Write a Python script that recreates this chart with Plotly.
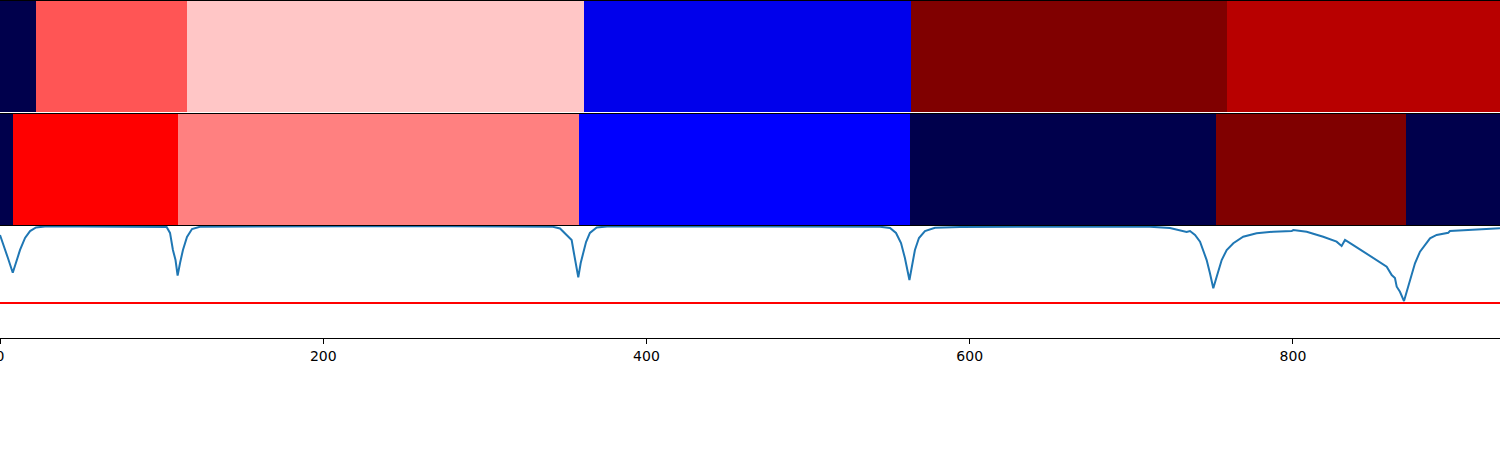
import plotly.graph_objects as go

# ---- data ----
x_max = 928.1

top_edges = [0.0, 22.3, 115.7, 361.3, 563.6, 759.2, 928.1]
top_values = [-1.0, 3/9, 1/9, -5/9, 1.0, 7/9]

mid_edges = [0.0, 8.0, 110.1, 358.3, 563.1, 752.4, 870.0, 928.1]
mid_values = [-1.0, 0.5, 0.25, -0.5, -1.0, 1.0, -1.0]

signal_x = [0.0, 2.5, 4.9, 7.9, 9.9, 12.4, 15.5, 18.6, 22.3, 27.8, 49.5, 80.4, 99.0,
            103.1, 105.2, 107.0, 108.6, 109.9, 111.4, 113.2, 115.7, 118.8, 123.7, 154.7, 216.6, 278.4, 327.9,
            342.1, 346.5, 350.6, 353.7, 355.1, 356.7, 357.8, 359.3, 360.9, 362.6, 365.0, 369.2, 375.6, 433.1, 495.0, 544.5,
            550.7, 554.4, 557.5, 559.9, 562.7, 564.3, 566.1, 568.6, 572.3, 578.5, 594.0, 649.7, 680.6,
            711.5, 723.9, 730.1, 734.2, 736.3, 739.4, 742.5, 744.5, 746.6, 748.6, 750.7, 752.8, 755.9, 759.0,
            763.1, 769.2, 777.5, 787.8, 799.2, 800.2, 808.5, 818.7, 827.0, 830.1, 832.2, 837.3, 843.5, 851.8,
            858.0, 861.1, 863.1, 864.2, 866.2, 868.7, 871.4, 875.5, 878.6, 884.8, 888.9, 896.1, 897.1, 907.5, 928.1]
signal_y = [0.920, 0.821, 0.714, 0.583, 0.679, 0.786, 0.893, 0.955, 0.987, 0.996, 0.996, 0.996, 0.996,
            0.991, 0.938, 0.786, 0.696, 0.558, 0.670, 0.786, 0.902, 0.973, 0.993, 0.996, 0.997, 0.997, 0.996,
            0.993, 0.978, 0.920, 0.875, 0.759, 0.634, 0.542, 0.670, 0.768, 0.857, 0.938, 0.987, 0.996, 0.997, 0.997, 0.994,
            0.982, 0.938, 0.848, 0.714, 0.518, 0.643, 0.786, 0.893, 0.955, 0.984, 0.991, 0.993, 0.996,
            0.994, 0.982, 0.964, 0.946, 0.955, 0.920, 0.860, 0.786, 0.696, 0.580, 0.444, 0.547, 0.696, 0.786,
            0.846, 0.904, 0.935, 0.949, 0.955, 0.964, 0.949, 0.904, 0.860, 0.821, 0.875, 0.830, 0.771, 0.696,
            0.637, 0.562, 0.536, 0.458, 0.413, 0.330, 0.458, 0.667, 0.771, 0.890, 0.920, 0.940, 0.955, 0.964, 0.979]
threshold = 0.3125

x_ticks = [0, 200, 400, 600, 800]

seismic = [[0.0, "rgb(0,0,76)"], [0.25, "rgb(0,0,255)"], [0.5, "rgb(255,255,255)"],
           [0.75, "rgb(255,0,0)"], [1.0, "rgb(128,0,0)"]]

fig = go.Figure()
fig.add_trace(go.Heatmap(x=top_edges, y=[0, 1], z=[top_values], colorscale=seismic,
                         zmin=-1, zmax=1, showscale=False, xaxis="x", yaxis="y"))
fig.add_trace(go.Heatmap(x=mid_edges, y=[0, 1], z=[mid_values], colorscale=seismic,
                         zmin=-1, zmax=1, showscale=False, xaxis="x2", yaxis="y2"))
fig.add_trace(go.Scatter(x=signal_x, y=signal_y, mode="lines",
                         line=dict(color="#1f77b4", width=2), xaxis="x3", yaxis="y3",
                         showlegend=False))
fig.add_trace(go.Scatter(x=[0, x_max], y=[threshold, threshold], mode="lines",
                         line=dict(color="red", width=2), xaxis="x3", yaxis="y3",
                         showlegend=False))

hidden = dict(visible=False, range=[0, x_max], automargin=False)
H = 338.0
fig.update_layout(
    width=1500, height=450,
    margin=dict(l=0, r=0, t=0, b=112, autoexpand=False),
    paper_bgcolor="white", plot_bgcolor="white",
    showlegend=False,
    xaxis=dict(hidden, domain=[0, 1], anchor="y"),
    yaxis=dict(visible=False, range=[0, 1], domain=[(H - 112) / H, 1.0], anchor="x"),
    xaxis2=dict(hidden, domain=[0, 1], anchor="y2"),
    yaxis2=dict(visible=False, range=[0, 1], domain=[(H - 225) / H, (H - 113) / H], anchor="x2"),
    xaxis3=dict(range=[0, x_max], domain=[0, 1], anchor="y3", showline=True, mirror=True,
                linecolor="black", linewidth=1, ticks="outside", ticklen=5, tickwidth=1,
                tickcolor="black", tickvals=x_ticks, showgrid=False, zeroline=False,
                ticklabeloverflow="allow", automargin=False,
                tickfont=dict(family="DejaVu Sans", size=14, color="black")),
    yaxis3=dict(range=[0, 1], domain=[0, (H - 226) / H], anchor="x3", showline=True,
                linecolor="black", linewidth=1, showticklabels=False, ticks="",
                showgrid=False, zeroline=False, automargin=False),
)
# thin black borders at the tops of the two colour strips
for yp in [1.0 - 0.5 / H, (H - 113.5) / H]:
    fig.add_shape(type="line", xref="paper", yref="paper", x0=0, x1=1, y0=yp, y1=yp,
                  line=dict(color="black", width=1))

fig.write_html("out.html", config={"displayModeBar": False},
               post_script="document.body.style.margin='0';document.body.style.overflow='hidden';")
